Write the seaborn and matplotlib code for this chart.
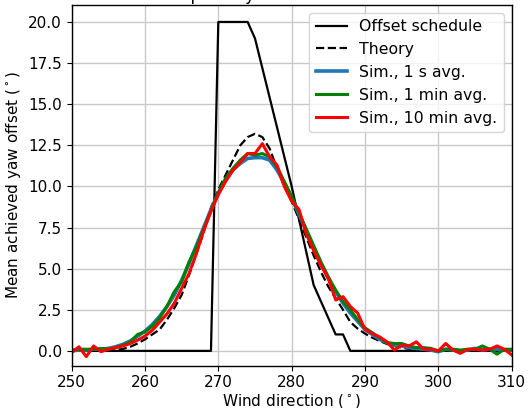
import numpy as np
import pandas as pd
import matplotlib
matplotlib.use("Agg")
import matplotlib.pyplot as plt
import seaborn as sns

# ---- data ----
wind_dir = list(range(250, 311))

offset_schedule = ([0]*20 + [20, 20, 20, 20, 20,
                   19.0, 17.2, 15.4, 13.6, 11.8, 10.0, 8.0, 6.0, 4.0, 3.0, 2.0, 1.0, 1.0]
                   + [0]*23)

theory = [0.0, 0.0, 0.0, 0.0, 0.01, 0.03, 0.06, 0.12, 0.25, 0.45,
          0.7, 1.0, 1.3, 1.9, 2.6, 3.4, 4.6, 5.9, 7.2, 8.7,
          9.8, 10.7, 11.6, 12.5, 13.0, 13.2, 13.0, 12.3, 11.1, 10.0,
          9.1, 8.0, 6.9, 5.8, 4.8, 3.9, 3.2, 2.5, 1.75, 1.35,
          1.05, 0.8, 0.6, 0.42, 0.3, 0.2, 0.12, 0.07, 0.04, 0.02,
          0.01, 0.0, 0.0, 0.0, 0.0, 0.0, 0.0, 0.0, 0.0, 0.0, 0.0]

sim_1s = [0.0, 0.05, 0.05, 0.1, 0.1, 0.15, 0.25, 0.4, 0.6, 0.9,
          1.2, 1.6, 2.1, 2.7, 3.4, 4.3, 5.3, 6.4, 7.5, 8.6,
          9.6, 10.4, 11.0, 11.4, 11.7, 11.75, 11.75, 11.6, 11.0, 10.2,
          9.3, 8.3, 7.3, 6.3, 5.3, 4.4, 3.6, 2.9, 2.3, 1.8,
          1.3, 1.0, 0.7, 0.5, 0.35, 0.3, 0.2, 0.15, 0.1, 0.05,
          -0.05, 0.1, 0.05, 0.0, 0.05, 0.15, 0.05, 0.1, 0.1, 0.05, 0.05]

sim_1min = [0.05, 0.1, 0.1, 0.1, 0.15, 0.1, 0.2, 0.35, 0.55, 1.0,
            1.15, 1.5, 2.0, 2.7, 3.6, 4.2, 5.4, 6.3, 7.4, 8.5,
            9.6, 10.5, 11.1, 11.6, 12.0, 11.9, 12.0, 11.8, 11.2, 10.3,
            9.4, 8.4, 7.4, 6.4, 5.4, 4.5, 3.7, 3.0, 2.5, 1.9,
            1.4, 1.1, 0.8, 0.5, 0.45, 0.45, 0.3, 0.2, 0.2, 0.15,
            0.0, 0.1, 0.1, 0.05, 0.1, 0.1, 0.3, 0.1, -0.2, 0.1, 0.1]

sim_10min = [-0.1, 0.25, -0.35, 0.3, -0.05, 0.1, 0.2, 0.3, 0.45, 0.65,
             0.9, 1.25, 1.75, 2.25, 2.9, 3.8, 4.7, 5.9, 7.3, 8.5,
             9.5, 10.3, 11.0, 11.45, 12.0, 12.0, 12.6, 11.8, 11.3, 10.0,
             9.1, 8.6, 7.1, 6.1, 5.2, 4.4, 3.1, 3.3, 2.7, 2.3,
             1.3, 1.05, 0.85, 0.55, 0.05, 0.35, 0.3, 0.55, 0.1, 0.1,
             0.0, 0.45, 0.05, -0.15, 0.1, 0.1, 0.05, 0.1, 0.3, 0.1, -0.25]

labels = ["Offset schedule", "Theory", "Sim., 1 s avg.",
          "Sim., 1 min avg.", "Sim., 10 min avg."]
title_text = "Top-hat: yaw offset schedule"

# ---- figure ----
plt.rcParams["font.family"] = ["DejaVu Sans"]
plt.rcParams["font.size"] = 11

fig = plt.figure(figsize=(5.30, 4.08), dpi=100)
ax = fig.add_axes([0.1351, 0.1037, 0.9655 - 0.1351, 0.9877 - 0.1037])

series = [offset_schedule, theory, sim_1s, sim_1min, sim_10min]
colors = ["black", "black", "#1f77b4", "#008000", "#ff0000"]
styles = ["-", "--", "-", "-", "-"]
widths = [1.6, 1.6, 2.6, 2.2, 2.2]

for vals, lab, col, ls, lw in zip(series, labels, colors, styles, widths):
    sns.lineplot(x=wind_dir, y=vals, ax=ax, color=col, linestyle=ls,
                 linewidth=lw, label=lab)

ax.set_xlim(250, 310)
ax.set_ylim(-0.9, 21.03)
ax.set_xticks([250, 260, 270, 280, 290, 300, 310])
yt = [0, 2.5, 5, 7.5, 10, 12.5, 15, 17.5, 20]
ax.set_yticks(yt)
ax.set_yticklabels([f"{v:.1f}" for v in yt])
ax.grid(True, color="#c8c8c8", linewidth=1.0)
ax.set_axisbelow(True)
for sp in ax.spines.values():
    sp.set_color("black")
    sp.set_linewidth(1.0)

ax.set_xlabel(r"Wind direction ($^\circ$)", fontsize=11, labelpad=1.5)
ax.set_ylabel(r"Mean achieved yaw offset ($^\circ$)", fontsize=11)
ax.set_title(title_text, fontsize=12, pad=3.6)

leg = ax.legend(loc="upper right", fontsize=11.3, framealpha=0.8)

fig.savefig("out.png", dpi=100)
